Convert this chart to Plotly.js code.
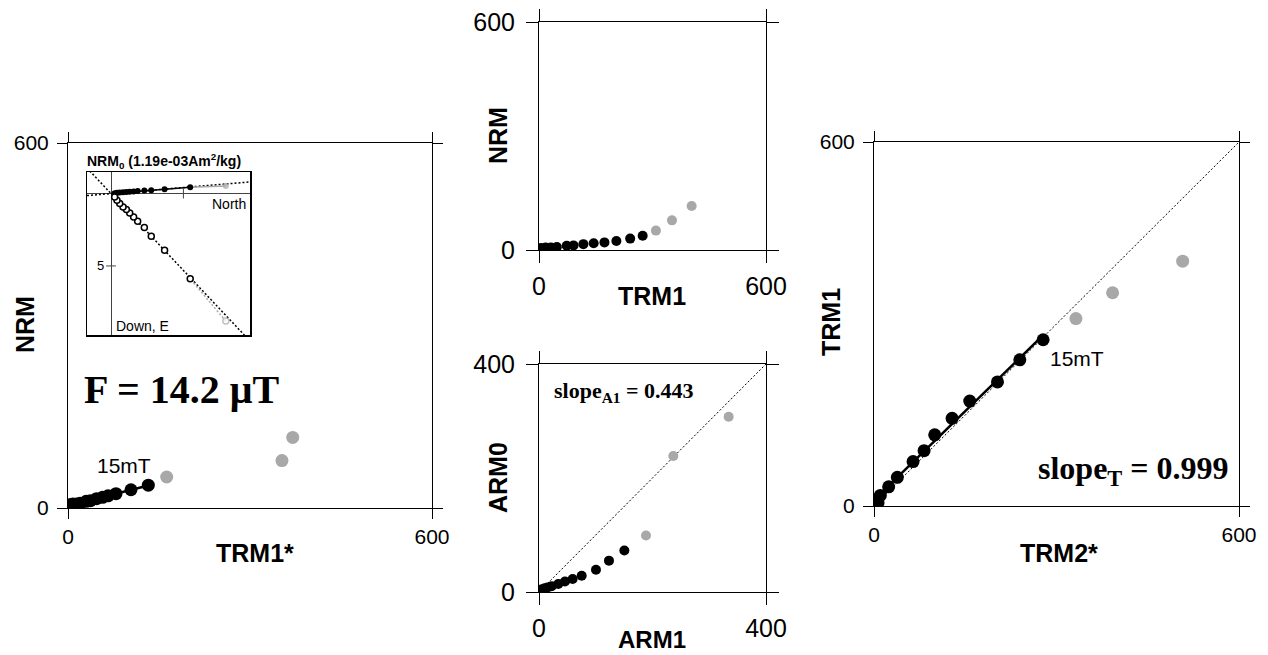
<!DOCTYPE html>
<html>
<head>
<meta charset="utf-8">
<script src="https://cdn.plot.ly/plotly-3.0.1.min.js"></script>
<style>html,body{margin:0;padding:0;background:#fff;}#chart{width:1268px;height:655px;}</style>
</head>
<body>
<div id="chart"></div>
<script>
// ---- data (one entry per AF demagnetisation step; first 3 steps are excluded, drawn grey) ----
const excludedSteps = 3;
const NRM       = [116, 78, 51, 37.5, 30, 23.5, 20, 17.6, 15.4, 12.1, 11, 7.7, 6.6, 6.6, 5.5];
const TRM1      = [403.5, 351.5, 309, 274, 241, 204.5, 173, 144.5, 117.3, 91.2, 73.3, 47.2, 31.6, 17.5, 5.5];
const TRM1star  = [370.4, 352.7, 162.7, 132.4, 103.8, 79.1, 66, 57, 47, 37, 30, 20, 14, 8, 3];
const TRM2star  = [507.4, 392.2, 331.9, 278, 239.7, 203, 157.4, 128.4, 99.8, 82.3, 64.2, 38.4, 24.1, 10.4, 6.6];
const ARM1      = [334.2, 236.7, 188.5, 150.4, 123.3, 100.4, 75.2, 59.3, 45.8, 34, 22.3, 15, 10, 5, 2];
const ARM0      = [307.5, 238.5, 99.1, 72.7, 55, 38.9, 28.6, 22.8, 18.3, 14, 10.3, 8, 6.5, 5, 3];
// Zijderveld inset (first entry grey, the rest black), units of 1e-4 Am2/kg
const zijExcluded = 1;
const zNorth = [7.93, 5.47, 3.7, 2.78, 2.3, 1.84, 1.56, 1.29, 1.06, 0.83, 0.6, 0.41, 0.25];
const zEast  = [-0.52, -0.43, -0.3, -0.23, -0.21, -0.17, -0.15, -0.13, -0.11, -0.09, -0.07, -0.05, -0.03];
const zDown  = [8.81, 5.89, 3.91, 2.94, 2.35, 1.91, 1.61, 1.34, 1.1, 0.92, 0.69, 0.46, 0.23];
// labels
const fieldText = 'F = 14.2 \u03bcT';
const slopeA1Text = 'slope<sub>A1</sub> = 0.443';
const slopeTText = 'slope<sub>T</sub> = 0.999';
const stepLabel = '15mT';
const nrm0Text = 'NRM<sub>0</sub> (1.19e-03Am<sup>2</sup>/kg)';
const tickVals600 = [0, 600];
const tickVals400 = [0, 400];

// ---- helpers ----
const W = 1268, H = 655;
const PX = x => x / W, PY = y => 1 - y / H;
const GREY = '#a8a8a8';
const SANS = 'Liberation Sans, Arial, Helvetica, sans-serif';
const SERIF = 'Liberation Serif, Times New Roman, serif';
const grey = a => a.slice(0, excludedSteps);
const black = a => a.slice(excludedSteps);

function lsq(xs, ys) {
  const n = xs.length;
  const mx = xs.reduce((s, v) => s + v, 0) / n, my = ys.reduce((s, v) => s + v, 0) / n;
  let sxy = 0, sxx = 0;
  for (let i = 0; i < n; i++) { sxy += (xs[i] - mx) * (ys[i] - my); sxx += (xs[i] - mx) ** 2; }
  const b = sxy / sxx; return {b, a: my - b * mx};
}
function fitLine(xs, ys, xa, ya) {
  const f = lsq(xs, ys);
  const x0 = Math.min(...xs), x1 = Math.max(...xs);
  return {x: [x0, x1], y: [f.a + f.b * x0, f.a + f.b * x1], xaxis: xa, yaxis: ya, mode: 'lines',
    line: {color: 'black', width: 2.5}, hoverinfo: 'skip', showlegend: false};
}
function pts(xs, ys, xa, ya, color, size) {
  return {x: xs, y: ys, xaxis: xa, yaxis: ya, mode: 'markers', showlegend: false,
    marker: {color: color, size: size, line: {width: 0}}};
}
function oneToOne(max, xa, ya) {
  return {x: [0, max], y: [0, max], xaxis: xa, yaxis: ya, mode: 'lines', showlegend: false,
    line: {color: 'black', width: 1, dash: '2px,2px'}, hoverinfo: 'skip'};
}

const traces = [];
// left: NRM vs TRM1*
traces.push(fitLine(black(TRM1star), black(NRM), 'x', 'y'));
traces.push(pts(grey(TRM1star), grey(NRM), 'x', 'y', GREY, 13));
traces.push(pts(black(TRM1star), black(NRM), 'x', 'y', 'black', 13));
// middle top: NRM vs TRM1
traces.push(pts(grey(TRM1), grey(NRM), 'x2', 'y2', GREY, 10));
traces.push(pts(black(TRM1), black(NRM), 'x2', 'y2', 'black', 10));
// middle bottom: ARM0 vs ARM1
traces.push(oneToOne(400, 'x3', 'y3'));
traces.push(pts(grey(ARM1), grey(ARM0), 'x3', 'y3', GREY, 10));
traces.push(pts(black(ARM1), black(ARM0), 'x3', 'y3', 'black', 10));
// right: TRM1 vs TRM2*
traces.push(oneToOne(600, 'x4', 'y4'));
traces.push(fitLine(black(TRM2star), black(TRM1), 'x4', 'y4'));
traces.push(pts(grey(TRM2star), grey(TRM1), 'x4', 'y4', GREY, 13));
traces.push(pts(black(TRM2star), black(TRM1), 'x4', 'y4', 'black', 13));

// inset Zijderveld
const insetX = [-1.66, 9.6], insetY = [-9.77, 1.49];
const zHy = zEast.map(v => -v), zVy = zDown.map(v => -v);
const zb = a => a.slice(zijExcluded), zg = a => a.slice(0, zijExcluded + 1);
function originSlope(xs, ys) { let a = 0, b = 0; xs.forEach((x, i) => { a += x * ys[i]; b += x * x; }); return a / b; }
const sH = originSlope(zb(zNorth), zb(zHy)), sV = originSlope(zb(zNorth), zb(zVy));
traces.push({x: insetX, y: insetX.map(x => sH * x), xaxis: 'x5', yaxis: 'y5', mode: 'lines', showlegend: false,
  line: {color: 'black', width: 1.5, dash: '2px,2px'}, hoverinfo: 'skip'});
traces.push({x: insetX, y: insetX.map(x => sV * x), xaxis: 'x5', yaxis: 'y5', mode: 'lines', showlegend: false,
  line: {color: 'black', width: 1.5, dash: '2px,2px'}, hoverinfo: 'skip'});
// axis tick marks inside inset
traces.push({x: [5, 0], y: [0, -5], xaxis: 'x5', yaxis: 'y5', mode: 'markers', showlegend: false, hoverinfo: 'skip',
  marker: {symbol: ['line-ns', 'line-ew'], size: 7, line: {color: '#444', width: 1}}});
// grey segments
traces.push({x: zg(zNorth), y: zg(zHy), xaxis: 'x5', yaxis: 'y5', mode: 'lines+markers', showlegend: false,
  line: {color: GREY, width: 1.5}, marker: {color: GREY, size: [6, 0], line: {width: 0}}});
traces.push({x: zg(zNorth), y: zg(zVy), xaxis: 'x5', yaxis: 'y5', mode: 'lines+markers', showlegend: false,
  line: {color: GREY, width: 1.5, dash: '2px,2px'},
  marker: {color: 'white', size: [6, 0], line: {color: GREY, width: 1.5}}});
// black points
traces.push({x: zb(zNorth), y: zb(zHy), xaxis: 'x5', yaxis: 'y5', mode: 'lines+markers', showlegend: false,
  line: {color: 'black', width: 1.5}, marker: {color: 'black', size: 6, line: {width: 0}}});
traces.push({x: zb(zNorth), y: zb(zVy), xaxis: 'x5', yaxis: 'y5', mode: 'markers', showlegend: false,
  marker: {color: 'white', size: 6, line: {color: 'black', width: 1.5}}});

function mainAxis(dom, range, tv, fs, len, standoff, anchor) {
  return {domain: dom, range: range, tickvals: tv, ticktext: tv.map(String), ticks: 'outside', ticklen: len,
    tickwidth: 1, tickcolor: 'black', showline: true, linecolor: 'black', linewidth: 1, mirror: 'ticks',
    showgrid: false, zeroline: false, tickfont: {family: SANS, size: fs, color: 'black'},
    ticklabelstandoff: standoff, anchor: anchor, fixedrange: true};
}
const dLeftX = [PX(68), PX(432)], dLeftY = [PY(508), PY(143)];
const dMidX = [PX(539), PX(766)], dMTY = [PY(250), PY(22)], dMBY = [PY(592), PY(364)];
const dRX = [PX(874), PX(1239)], dRY = [PY(506), PY(142)];

const layout = {
  width: W, height: H, margin: {l: 0, r: 0, t: 0, b: 0}, paper_bgcolor: 'white', plot_bgcolor: 'rgba(0,0,0,0)',
  showlegend: false, font: {family: SANS, color: 'black'},
  xaxis: mainAxis(dLeftX, [0, 600], tickVals600, 21, 10, 0, 'y'),
  yaxis: mainAxis(dLeftY, [0, 600], tickVals600, 21, 10, 4, 'x'),
  xaxis2: mainAxis(dMidX, [0, 600], tickVals600, 25, 12, 2, 'y2'),
  yaxis2: mainAxis(dMTY, [0, 600], tickVals600, 25, 12, 6, 'x2'),
  xaxis3: mainAxis(dMidX, [0, 400], tickVals400, 25, 12, 2, 'y3'),
  yaxis3: mainAxis(dMBY, [0, 400], tickVals400, 25, 12, 6, 'x3'),
  xaxis4: mainAxis(dRX, [0, 600], tickVals600, 21, 10, 0, 'y4'),
  yaxis4: mainAxis(dRY, [0, 600], tickVals600, 21, 10, 4, 'x4'),
  xaxis5: {domain: [PX(87), PX(250)], range: insetX, anchor: 'y5', showline: true, mirror: true, linecolor: 'black',
    linewidth: 1.5, showticklabels: false, ticks: '', showgrid: false, zeroline: true, zerolinecolor: '#444',
    zerolinewidth: 1, fixedrange: true},
  yaxis5: {domain: [PY(335), PY(172)], range: insetY, anchor: 'x5', showline: true, mirror: true, linecolor: 'black',
    linewidth: 1.5, showticklabels: false, ticks: '', showgrid: false, zeroline: true, zerolinecolor: '#444',
    zerolinewidth: 1, fixedrange: true},
  annotations: []
};
function ann(text, x, y, opts) {
  layout.annotations.push(Object.assign({text: text, x: PX(x), y: PY(y), xref: 'paper', yref: 'paper',
    showarrow: false, xanchor: 'center', yanchor: 'middle', font: {family: SANS, size: 25, color: 'black'}}, opts || {}));
}
const bold = t => '<b>' + t + '</b>';
// axis titles
ann(bold('NRM'), 25, 325, {textangle: -90});
ann(bold('TRM1*'), 255, 553);
ann(bold('NRM'), 498, 136, {textangle: -90});
ann(bold('TRM1'), 652, 296);
ann(bold('ARM0'), 498, 478, {textangle: -90});
ann(bold('ARM1'), 652, 639, {font: {family: SANS, size: 24, color: 'black'}});
ann(bold('TRM1'), 831, 322, {textangle: -90});
ann(bold('TRM2*'), 1059, 553);
// panel texts
ann(bold(fieldText), 82, 389, {xanchor: 'left', font: {family: SERIF, size: 40, color: 'black'}});
ann(stepLabel, 124, 465, {font: {family: SANS, size: 21, color: 'black'}});
ann(stepLabel, 1077, 358, {font: {family: SANS, size: 21, color: 'black'}});
ann(bold(slopeTText), 1036, 470, {xanchor: 'left', font: {family: SERIF, size: 32, color: 'black'}});
ann(bold(slopeA1Text), 552, 392, {xanchor: 'left', font: {family: SERIF, size: 22, color: 'black'}});
// inset texts
ann(bold(nrm0Text), 164, 161, {font: {family: SANS, size: 14, color: 'black'}});
ann('North', 248, 204, {xanchor: 'right', font: {family: SANS, size: 14, color: 'black'}});
ann('Down, E', 114, 326, {xanchor: 'left', font: {family: SANS, size: 14, color: 'black'}});
layout.annotations.push({text: '5', x: 0, y: -5, xref: 'x5', yref: 'y5', xanchor: 'right', yanchor: 'middle',
  xshift: -5, showarrow: false, font: {family: SANS, size: 13, color: 'black'}});

Plotly.newPlot('chart', traces, layout, {displayModeBar: false, staticPlot: true});
</script>
</body>
</html>
